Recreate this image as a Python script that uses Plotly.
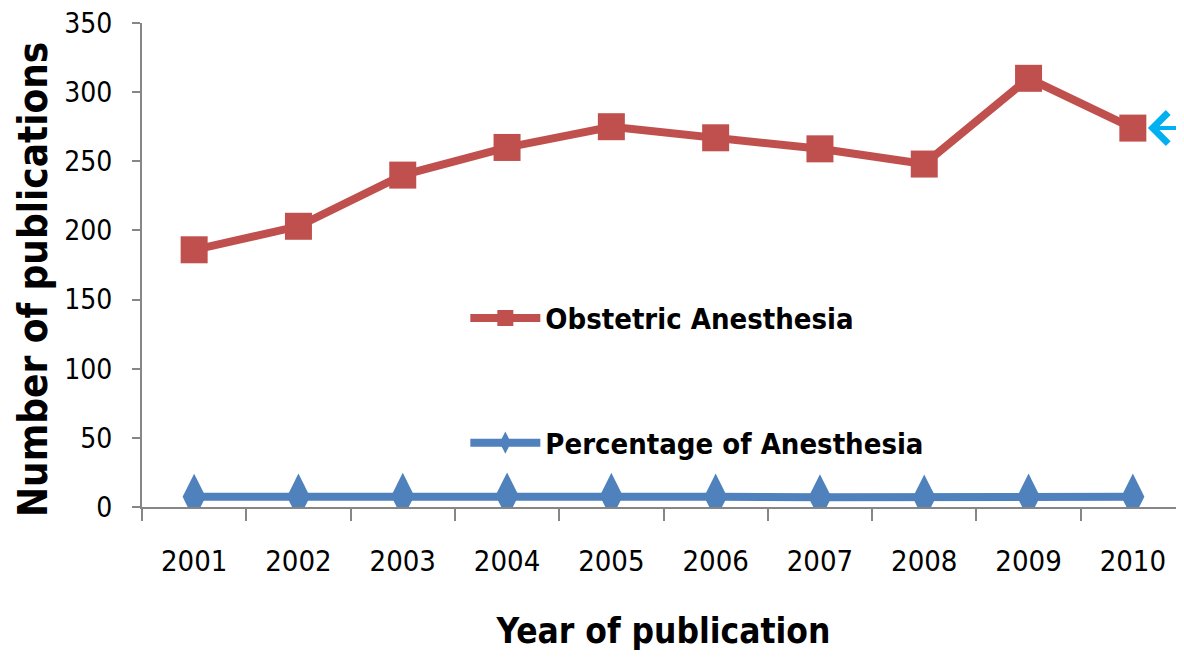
import plotly.graph_objects as go

YEARS = ["2001", "2002", "2003", "2004", "2005", "2006", "2007", "2008", "2009", "2010"]
OBSTETRIC = [186, 203, 240, 260, 275, 267, 259, 248, 310, 274]
PERCENTAGE = [7.4, 7.5, 8.0, 8.3, 8.0, 7.5, 7.0, 6.8, 7.5, 7.5]
Y_TICKS = [0, 50, 100, 150, 200, 250, 300, 350]

RED = "#C0504D"
BLUE = "#4F81BD"
AXIS_GREY = "#868686"
FONT = "DejaVu Sans Condensed, Liberation Sans Narrow, Open Sans, sans-serif"

fig = go.Figure()
fig.add_trace(
    go.Scatter(
        x=YEARS,
        y=OBSTETRIC,
        name="<b>Obstetric Anesthesia</b>",
        legendgroup="a",
        mode="lines+markers",
        line=dict(color=RED, width=8),
        marker=dict(symbol="square", size=27, color=RED),
    )
)
fig.add_trace(
    go.Scatter(
        x=YEARS,
        y=PERCENTAGE,
        name="<b>Percentage of Anesthesia</b>",
        legendgroup="b",
        mode="lines+markers",
        line=dict(color=BLUE, width=8),
        marker=dict(symbol="diamond-tall", size=33, color=BLUE),
    )
)

# cyan arrow pointing at the 2010 value (x given as category index so the
# numeric-looking label is not read as a number)
fig.add_annotation(
    x=YEARS.index("2010"),
    y=OBSTETRIC[-1],
    ax=70,
    ay=0,
    text="",
    showarrow=True,
    arrowhead=4,
    arrowsize=1.5,
    arrowwidth=4,
    arrowcolor="#00B0F0",
    standoff=15,
)

# y title as annotation: it sits a bit below the plot centre in the original
fig.add_annotation(
    text="<b>Number of publications</b>",
    xref="paper",
    yref="paper",
    x=-0.105,
    y=0.47,
    xanchor="center",
    yanchor="middle",
    textangle=-90,
    showarrow=False,
    font=dict(family=FONT, size=40, color="black"),
)

# page body adds an 8px offset, margins compensate for it
fig.update_layout(
    width=1184,
    height=657,
    paper_bgcolor="white",
    plot_bgcolor="white",
    margin=dict(l=134, r=7, t=15, b=158),
    font=dict(family=FONT, size=28, color="black"),
    showlegend=True,
    legend=dict(
        x=0.31,
        y=0.443,
        xanchor="left",
        yanchor="top",
        bgcolor="rgba(0,0,0,0)",
        font=dict(family=FONT, size=29, color="black"),
        itemwidth=70,
        tracegroupgap=84,
    ),
    xaxis=dict(
        type="category",
        range=[-0.5, len(YEARS) - 0.5],
        automargin=False,
        showline=True,
        linecolor=AXIS_GREY,
        linewidth=2,
        ticks="outside",
        tickson="boundaries",
        ticklen=12,
        tickcolor=AXIS_GREY,
        tickwidth=2,
        showgrid=False,
        zeroline=False,
        tickangle=0,
        ticklabelstandoff=27,
        tickfont=dict(family=FONT, size=29),
        title=dict(
            text="<b>Year of publication</b>",
            font=dict(family=FONT, size=35),
            standoff=42,
        ),
    ),
    yaxis=dict(
        range=[0, 350],
        tickvals=Y_TICKS,
        automargin=False,
        showline=True,
        linecolor=AXIS_GREY,
        linewidth=2,
        ticks="outside",
        ticklen=8,
        tickcolor=AXIS_GREY,
        tickwidth=2,
        showgrid=False,
        zeroline=False,
        ticklabelstandoff=14,
        ticklabeloverflow="allow",
        tickfont=dict(family=FONT, size=28),
    ),
)

fig.write_html("out.html")
